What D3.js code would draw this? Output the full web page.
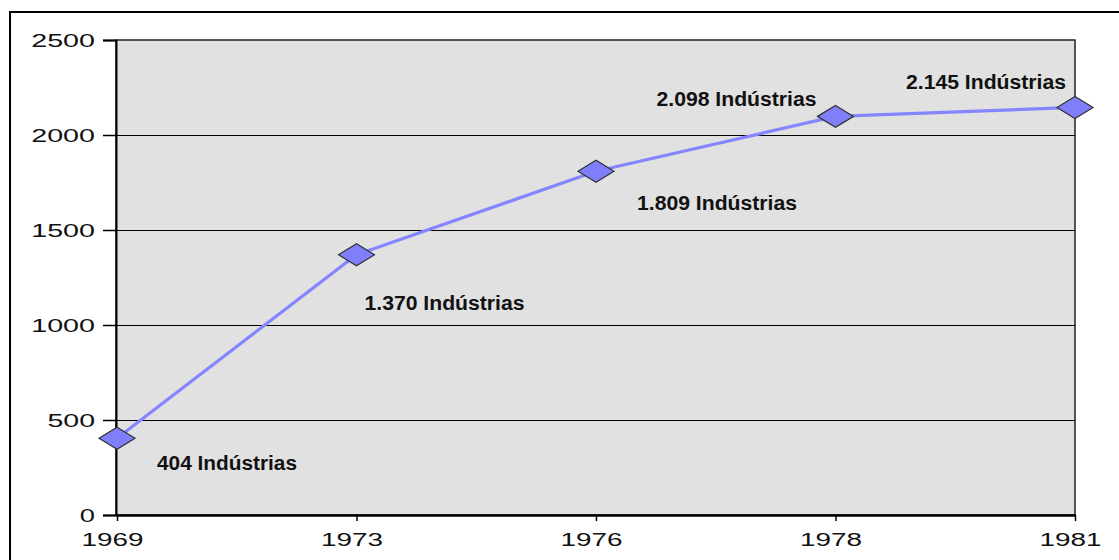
<!DOCTYPE html>
<html>
<head>
<meta charset="utf-8">
<script src="https://cdn.jsdelivr.net/npm/d3@7"></script>
<style>
  html, body { margin: 0; padding: 0; background: #fff; }
  svg { display: block; }
  .tick-label { font-family: "Liberation Sans", Arial, sans-serif; font-size: 18px; fill: #111; }
  .point-label { font-family: "Liberation Sans", Arial, sans-serif; font-size: 20px; font-weight: bold; fill: #111; }
</style>
</head>
<body>
<svg id="chart" width="1119" height="560"></svg>
<script>
var years = ['1969', '1973', '1976', '1978', '1981']
var industries = [404, 1370, 1809, 2098, 2145]
var yTicks = [0, 500, 1000, 1500, 2000, 2500]

// where each value label sits relative to its point (below / above)
var labelPlacement = [
  { dx: 40, dy: 17 },
  { dx: 8, dy: 41 },
  { dx: 41, dy: 24 },
  { dx: -179, dy: -25 },
  { dx: -169, dy: -33 }
]

var width = 1119
,   height = 560
,   margin = { left: 116, right: 44, top: 40, bottom: 45 }

var ptBR = d3.formatLocale({ decimal: ',', thousands: '.', grouping: [3], currency: ['R$', ''] })
,   fmt = ptBR.format(',d')

var svg = d3.select('#chart')

// outer frame (only left and top edges fall inside the picture)
svg.append('rect')
  .attr('x', 10).attr('y', 12)
  .attr('width', width + 20).attr('height', height + 20)
  .attr('fill', 'none')
  .attr('stroke', '#000')
  .attr('stroke-width', 2)

var x = d3.scalePoint()
  .domain(years)
  .range([margin.left + 1, width - margin.right])

var y = d3.scaleLinear()
  .domain([0, 2500])
  .range([height - margin.bottom, margin.top])

var plotLeft = margin.left
,   plotRight = width - margin.right
,   plotTop = y(2500)
,   plotBottom = y(0)

svg.append('rect')
  .attr('x', plotLeft).attr('y', plotTop)
  .attr('width', plotRight - plotLeft).attr('height', plotBottom - plotTop)
  .attr('fill', '#e1e1e1')
  .attr('stroke', '#222')
  .attr('stroke-width', 1.5)

// gridlines
svg.append('g')
  .selectAll('line')
  .data(yTicks.filter((d) => d > 0 && d < 2500))
  .enter().append('line')
  .attr('x1', plotLeft).attr('x2', plotRight)
  .attr('y1', (d) => Math.round(y(d)) + 0.5)
  .attr('y2', (d) => Math.round(y(d)) + 0.5)
  .attr('stroke', '#000')
  .attr('stroke-width', 1.2)

// y axis
var yAxis = svg.append('g')
  .attr('transform', 'translate(' + plotLeft + ',0)')
  .call(d3.axisLeft(y).tickValues(yTicks).tickFormat(d3.format('d')).tickSize(13).tickPadding(8))

yAxis.select('.domain').attr('stroke', '#000').attr('stroke-width', 2)
yAxis.selectAll('.tick line').attr('stroke', '#000').attr('stroke-width', 1.5)
yAxis.selectAll('.tick text')
  .attr('class', 'tick-label')
  .attr('font-family', null).attr('font-size', null)
  .attr('dy', '0.36em')
  .attr('textLength', (d) => String(d).length * 16.2 - 1)
  .attr('lengthAdjust', 'spacingAndGlyphs')

// x axis
var xAxis = svg.append('g')
  .attr('transform', 'translate(0,' + plotBottom + ')')
  .call(d3.axisBottom(x).tickSize(6).tickPadding(12).tickSizeOuter(0))

xAxis.select('.domain').attr('stroke', '#000').attr('stroke-width', 2.5)
xAxis.selectAll('.tick line').attr('stroke', '#000').attr('stroke-width', 1.5)
xAxis.selectAll('.tick text')
  .attr('class', 'tick-label')
  .attr('font-family', null).attr('font-size', null)
  .attr('text-anchor', 'start')
  .attr('dx', -36)
  .attr('dy', '0.72em')
  .attr('textLength', 62)
  .attr('lengthAdjust', 'spacingAndGlyphs')

var points = years.map((yr, i) => ({ year: yr, value: industries[i], place: labelPlacement[i] }))

// the series line
svg.append('path')
  .datum(points)
  .attr('fill', 'none')
  .attr('stroke', '#8585ff')
  .attr('stroke-width', 3.2)
  .attr('stroke-linejoin', 'round')
  .attr('d', d3.line().x((d) => x(d.year)).y((d) => y(d.value)))

// diamond markers
svg.append('g')
  .selectAll('path')
  .data(points)
  .enter().append('path')
  .attr('transform', (d) => 'translate(' + x(d.year) + ',' + y(d.value) + ')')
  .attr('d', 'M-18,0L0,-11L18,0L0,11Z')
  .attr('fill', '#7f7ffb')
  .attr('stroke', '#333')
  .attr('stroke-width', 1.2)

// value labels
svg.append('g')
  .selectAll('text')
  .data(points)
  .enter().append('text')
  .attr('class', 'point-label')
  .attr('x', (d) => x(d.year) + d.place.dx)
  .attr('y', (d) => y(d.value) + d.place.dy)
  .attr('dy', '0.72em')
  .attr('textLength', (d) => (fmt(d.value) + ' Indústrias').length * 10)
  .attr('lengthAdjust', 'spacingAndGlyphs')
  .text((d) => fmt(d.value) + ' Indústrias')
</script>
</body>
</html>
